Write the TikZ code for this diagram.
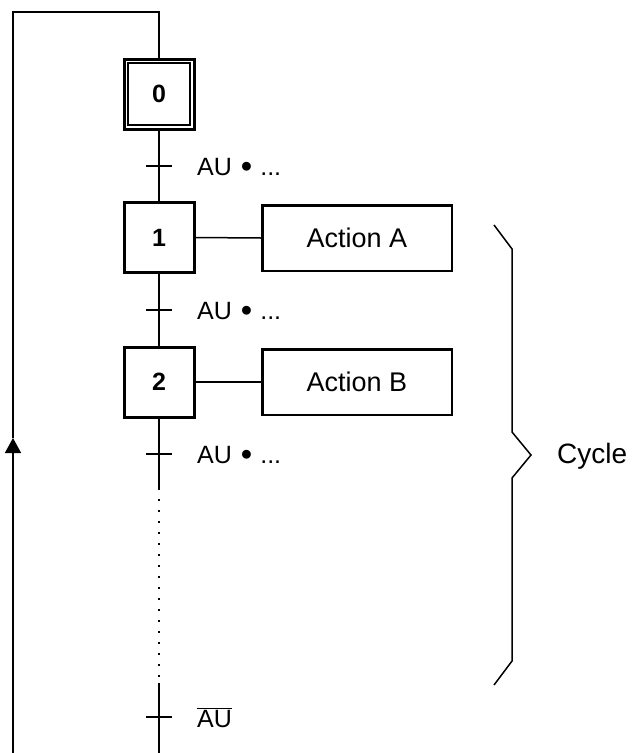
\documentclass[tikz,border=0pt]{standalone}
\usepackage{fontspec}
\setmainfont{Liberation Sans}
\usetikzlibrary{arrows.meta}
\newcommand{\myand}{\hspace{9pt}\raisebox{-2.5pt}{\scalebox{1.3}{•}}\hspace{8pt}}
\begin{document}
\begin{tikzpicture}[x=1pt,y=-1pt,
  lnk/.style={line width=1.5pt},
  stepbox/.style={draw,line width=3pt,minimum size=70pt,inner sep=0pt,font=\fontsize{25}{30}\selectfont\bfseries},
  innerbox/.style={draw,line width=1.5pt,minimum size=62pt,inner sep=0pt},
  actbox/.style={draw,line width=2.5pt,minimum width=189.5pt,minimum height=65.5pt,inner sep=0pt,font=\fontsize{27}{32}\selectfont},
  tickmark/.style={line width=2.5pt},
  lbl/.style={anchor=base west,inner sep=0pt,font=\fontsize{25}{30}\selectfont},
  biglbl/.style={anchor=base west,inner sep=0pt,font=\fontsize{28}{33}\selectfont},
  bracepath/.style={line width=1.5pt,line join=miter},
]
\useasboundingbox (0,0) rectangle (638,753);
% steps
\node[stepbox] (s0) at (159,94) {0};
\node[innerbox] (s0i) at (s0.center) {};
\node[stepbox] (s1) at (159,237.5) {1};
\node[stepbox] (s2) at (159,382) {2};
% actions
\node[actbox] (a1) at (357,238) {Action A};
\node[actbox] (a2) at (357,382) {Action B};
% coordinates
\coordinate (t1) at (159,166);
\coordinate (t2) at (159,310);
\coordinate (t3) at (159,454);
\coordinate (t4) at (159,717);
\coordinate (d1) at (159,490);
\coordinate (d2) at (159,683);
\coordinate (bot) at (159,753);
\coordinate (botL) at (13,753);
\coordinate (tip) at (13,438);
\coordinate (tl) at (13,12);
\coordinate (tr) at (159,12);
% main line
\draw[lnk] (s0.south) -- (s1.north);
\draw[lnk] (s1.south) -- (s2.north);
\draw[lnk] (s2.south) -- (d1);
\draw[lnk,line width=2pt,dash pattern=on 2pt off 9pt,dash phase=2pt] (d1) -- (d2);
\draw[lnk] (d2) -- (bot);
% action links
\draw[lnk] (s1.east) -- (a1.west);
\draw[lnk] (s2.east) -- (a2.west);
% return loop
\draw[lnk,-{Triangle[width=16pt,length=15pt]}] (botL) -- (tip);
\draw[lnk] (tip) -- (tl) -- (tr) -- (s0.north);
% transitions
\foreach \t in {t1,t2,t3,t4}{
  \draw[tickmark] ([xshift=-13pt]\t) -- ([xshift=13pt]\t);
}
\node[lbl] (c1) at (197,175) {AU\myand...};
\node[lbl] (c2) at (197,319) {AU\myand...};
\node[lbl] (c3) at (197,463) {AU\myand...};
\node[lbl] (c4) at (197,727) {$\overline{\hbox{AU}}$};
% brace
\coordinate (b1) at (494,225);
\coordinate (b2) at (512,249);
\coordinate (b3) at (512,432);
\coordinate (b4) at (531,455);
\coordinate (b5) at (512,478);
\coordinate (b6) at (512,661);
\coordinate (b7) at (494,685);
\draw[bracepath] (b1) -- (b2) -- (b3) -- (b4) -- (b5) -- (b6) -- (b7);
\node[biglbl] (cyc) at (557,463) {Cycle};
\end{tikzpicture}
\end{document}
